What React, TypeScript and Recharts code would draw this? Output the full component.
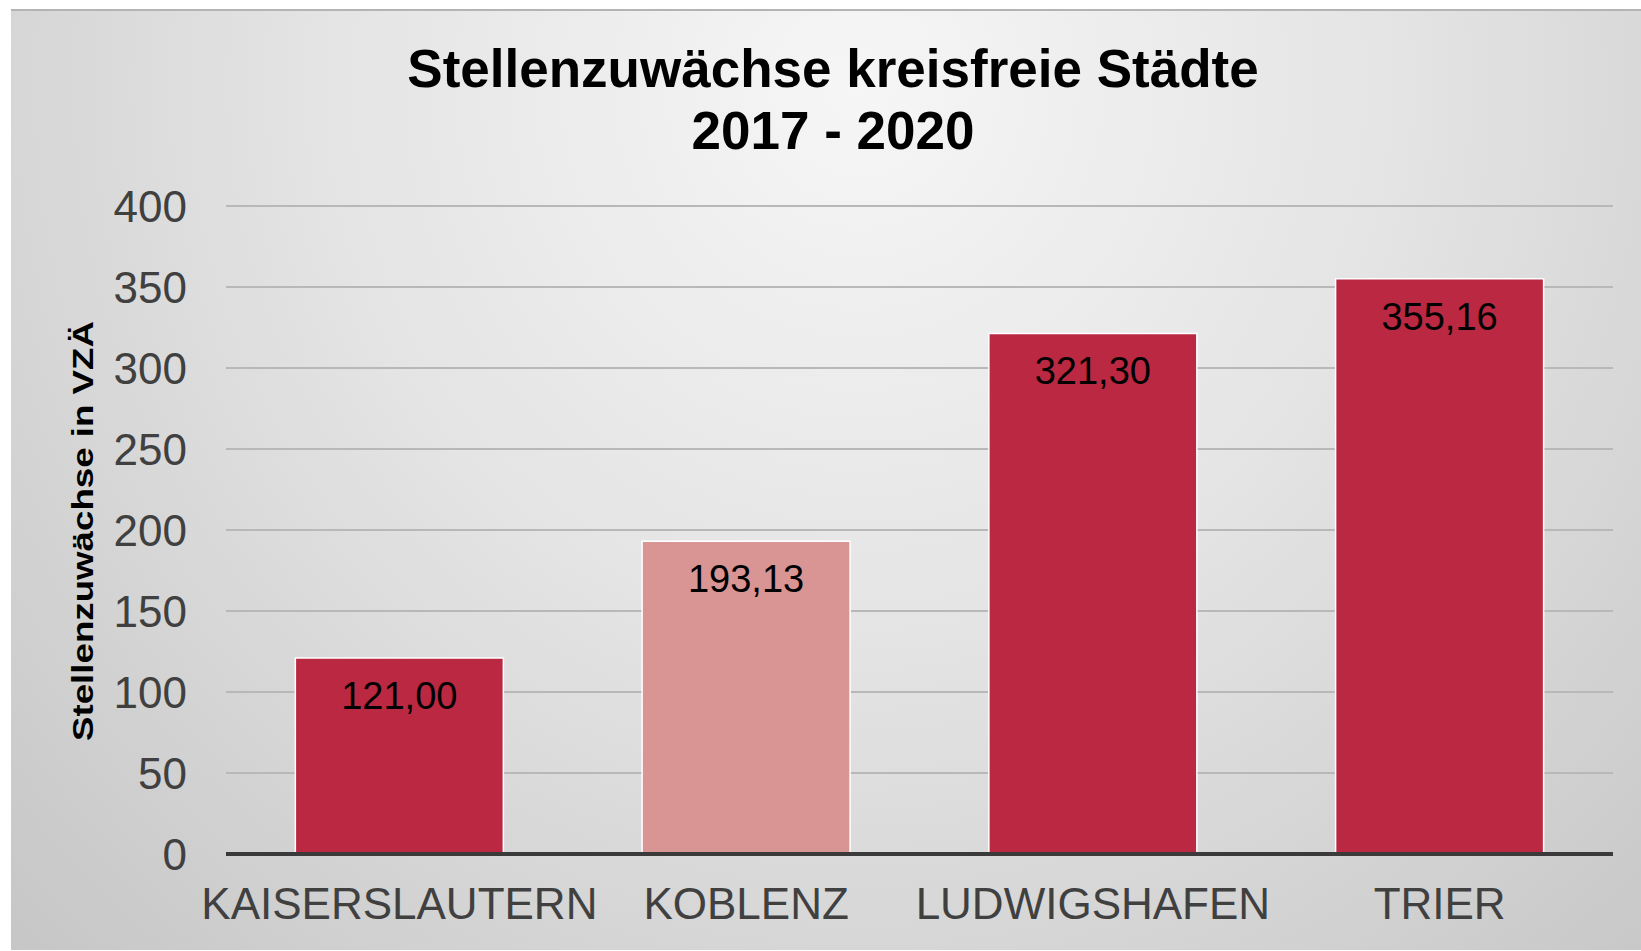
import React from 'react';
import { BarChart, Bar, XAxis, YAxis, CartesianGrid, Cell, LabelList } from 'recharts';

const cities = ['KAISERSLAUTERN', 'KOBLENZ', 'LUDWIGSHAFEN', 'TRIER'];
const growth = [121.0, 193.13, 321.3, 355.16];
const yTicks = [0, 50, 100, 150, 200, 250, 300, 350, 400];
const titleLines = ['Stellenzuwächse kreisfreie Städte', '2017 - 2020'];
const yAxisTitle = 'Stellenzuwächse in VZÄ';

const barColors = ['#BA2842', '#D99494', '#BA2842', '#BA2842'];

const data = cities.map((city, i) => ({ city, value: growth[i] }));

const FONT = '"Liberation Sans", Arial, sans-serif';

const formatDe = (v: number) => v.toFixed(2).replace('.', ',');

const YTitle = (props: any) => {
  const vb = props.viewBox || {};
  const cx = (vb.x || 0) + 82;
  const cy = (vb.y || 0) + (vb.height || 0) / 2 + 1;
  return (
    <text
      x={cx}
      y={cy}
      transform={`rotate(-90, ${cx}, ${cy})`}
      textAnchor="middle"
      dominantBaseline="central"
      fontFamily={FONT}
      fontWeight="bold"
      fontSize={30}
      fill="#000"
      textLength={420}
      lengthAdjust="spacingAndGlyphs"
    >
      {yAxisTitle}
    </text>
  );
};

const App: React.FC = () => {
  return (
    <div style={{ position: 'absolute', left: 0, top: 0, width: 1641, height: 951, background: '#fff', fontFamily: FONT }}>
      <div
        style={{
          position: 'absolute',
          left: 11,
          top: 9,
          width: 1630,
          height: 941,
          boxSizing: 'border-box',
          borderTop: '2px solid #b4b4b4',
          background: 'radial-gradient(ellipse farthest-corner at 52% 8%, #f6f6f6 0%, #e4e4e4 45%, #c6c6c6 100%)',
        }}
      />
      <div
        style={{
          position: 'absolute',
          left: 233,
          top: 38,
          width: 1200,
          textAlign: 'center',
          fontSize: 53,
          fontWeight: 'bold',
          lineHeight: '62px',
          color: '#000',
          whiteSpace: 'nowrap',
        }}
      >
        {titleLines.map(t => (
          <div key={t}>{t}</div>
        ))}
      </div>
      <div style={{ position: 'absolute', left: 0, top: 0 }}>
        <BarChart
          width={1641}
          height={951}
          data={data}
          margin={{ top: 206, right: 28, left: 0, bottom: 0 }}
          barCategoryGap="20%"
        >
          <CartesianGrid vertical={false} stroke="#b8b8b8" strokeWidth={2} />
          <XAxis
            dataKey="city"
            height={97}
            tickLine={false}
            tickSize={0}
            tickMargin={34}
            axisLine={{ stroke: '#3a3a3a', strokeWidth: 4 }}
            tick={{ fill: '#404040', fontSize: 44, fontFamily: FONT }}
            interval={0}
          />
          <YAxis
            width={226}
            domain={[0, 400]}
            ticks={yTicks}
            axisLine={false}
            tickLine={false}
            tickSize={0}
            tickMargin={39}
            tick={{ fill: '#404040', fontSize: 44, fontFamily: FONT }}
            label={<YTitle />}
          />
          <Bar dataKey="value" isAnimationActive={false} stroke="#ffffff" strokeWidth={1.5}>
            {data.map((d, i) => (
              <Cell key={d.city} fill={barColors[i]} />
            ))}
            <LabelList
              dataKey="value"
              position="insideTop"
              offset={24}
              formatter={(v: any) => formatDe(Number(v))}
              style={{ fill: '#000', fontSize: 38, fontFamily: FONT }}
            />
          </Bar>
        </BarChart>
      </div>
    </div>
  );
};

export default App;
